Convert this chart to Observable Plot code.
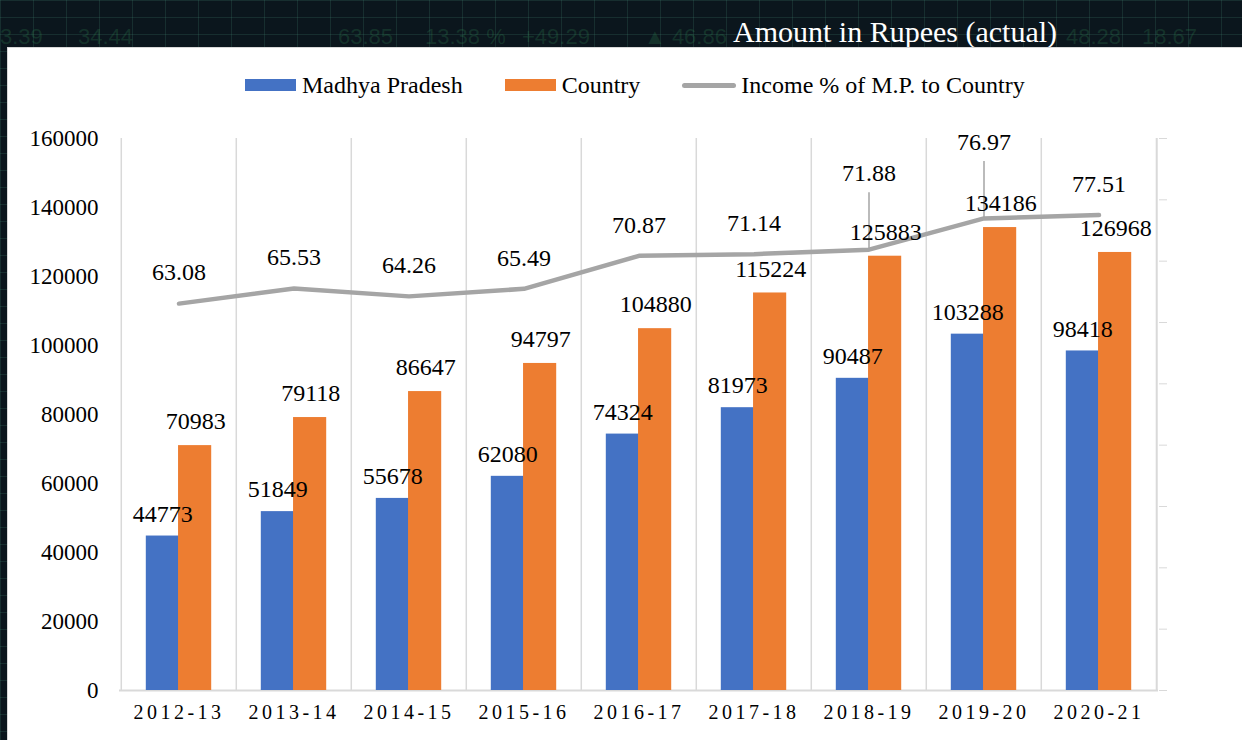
<!DOCTYPE html>
<html><head><meta charset="utf-8">
<script src="https://cdn.jsdelivr.net/npm/d3@7"></script>
<script src="https://cdn.jsdelivr.net/npm/@observablehq/plot@0.6"></script>
<style>
html,body{margin:0;padding:0;width:1242px;height:740px;overflow:hidden;}
body{position:relative;background-color:#0b161d;
 background-image:linear-gradient(rgba(70,140,120,.2) 1px,transparent 1px),linear-gradient(90deg,rgba(70,140,120,.2) 1px,transparent 1px);
 background-size:100% 17px,33px 100%;font-family:"Liberation Serif",serif;}
.bgt{position:absolute;top:24px;font-family:"Liberation Sans Narrow","Liberation Sans",sans-serif;font-size:22px;color:rgba(60,170,100,.2);white-space:nowrap;}
#title{position:absolute;left:733px;top:17px;line-height:30px;color:#fff;font-size:30px;white-space:nowrap;font-family:"Liberation Serif",serif;}
#panel{position:absolute;left:7px;top:47px;width:1250px;height:710px;background:#fff;border:1.5px solid #d8d8d8;}
#legend{position:absolute;top:73px;left:245px;display:flex;align-items:center;font-size:24px;line-height:24px;color:#000;font-family:"Liberation Serif",serif;}
#legend .item{display:flex;align-items:center;margin-right:42px;}
#legend .sw{width:51px;height:12px;margin-right:6px;}
#legend .ln{width:54px;height:5px;border-radius:3px;margin-right:5px;background:#A5A5A5;}
#chart{position:absolute;left:8px;top:100px;}
#chart svg, #chart svg text{font-family:"Liberation Serif",serif !important;}
#chart svg g[aria-label="x-axis tick label"] text{letter-spacing:3.5px;}
</style></head>
<body>
<div class="bgt" style="left:0px">3.39</div>
<div class="bgt" style="left:78px">34.44</div>
<div class="bgt" style="left:338px">63.85</div>
<div class="bgt" style="left:425px">13.38 %</div>
<div class="bgt" style="left:522px">+49.29</div>
<div class="bgt" style="left:644px">▲ 46.86</div>
<div class="bgt" style="left:1066px">48.28</div>
<div class="bgt" style="left:1142px">18.67</div>
<div id="title">Amount in Rupees (actual)</div>
<div id="panel"></div>
<div id="legend">
 <div class="item"><div class="sw" style="background:#4472C4"></div><span>Madhya Pradesh</span></div>
 <div class="item"><div class="sw" style="background:#ED7D31"></div><span>Country</span></div>
 <div class="item"><div class="ln"></div><span>Income % of M.P. to Country</span></div>
</div>
<div id="chart"></div>
<script>
const years = ["2012-13","2013-14","2014-15","2015-16","2016-17","2017-18","2018-19","2019-20","2020-21"];
const mpValues = [44773,51849,55678,62080,74324,81973,90487,103288,98418];
const countryValues = [70983,79118,86647,94797,104880,115224,125883,134186,126968];
const pctValues = [63.08,65.53,64.26,65.49,70.87,71.14,71.88,76.97,77.51];
const leftTicks = [0,20000,40000,60000,80000,100000,120000,140000,160000];
const rightTicks = [0,10,20,30,40,50,60,70,80,90];
const liftedYears = ["2018-19","2019-20"];

const leftMax = 160000, rightMax = 90;
const toLeft = v => v * leftMax / rightMax;

const W = 1234, H = 640, mT = 38, mB = 50, mL = 111, mR = 84;
const step = (W - mL - mR) / years.length;
const plotH = H - mT - mB;
const pxToData = px => px * leftMax / plotH;

const rows = years.map((y, i) => ({year: y, mp: mpValues[i], country: countryValues[i], pct: pctValues[i]}));
const normalPct = rows.filter(d => !liftedYears.includes(d.year));
const liftedPct = rows.filter(d => liftedYears.includes(d.year));

const barW = 33.6, outer = 24.8;
const grid = "#d9d9d9";
const serif = "Liberation Serif, serif";

const chart = Plot.plot({
  width: W, height: H, marginTop: mT, marginBottom: mB, marginLeft: mL, marginRight: mR,
  x: {domain: years, padding: 0, label: null},
  y: {domain: [0, leftMax], label: null},
  style: {fontFamily: serif, fontSize: "23px", color: "#000", background: "transparent", overflow: "visible"},
  marks: [
    Plot.ruleX(years, {x: d => d, dx: -step / 2, stroke: grid, strokeWidth: 1.5}),
    Plot.ruleX([years[years.length - 1]], {x: d => d, dx: step / 2, stroke: grid, strokeWidth: 2}),
    Plot.ruleY([0], {stroke: grid, strokeWidth: 2}),
    Plot.barY(rows, {x: "year", y: "mp", fill: "#4472C4", insetLeft: outer, insetRight: step - outer - barW}),
    Plot.barY(rows, {x: "year", y: "country", fill: "#ED7D31", insetLeft: step - outer - barW, insetRight: outer}),
    Plot.line(rows, {x: "year", y: d => toLeft(d.pct), stroke: "#A5A5A5", strokeWidth: 4.5}),
    Plot.ruleX(liftedPct, {x: "year", y1: d => toLeft(d.pct), y2: d => toLeft(d.pct) + pxToData(57), stroke: "#A5A5A5", strokeWidth: 1.5}),
    Plot.text(rows, {x: "year", y: "mp", text: d => String(d.mp), dx: -(barW / 2) + 0.5, dy: -22, fontSize: 24, fontFamily: serif, fill: "#000"}),
    Plot.text(rows, {x: "year", y: "country", text: d => String(d.country), dx: barW / 2, dy: -24, fontSize: 24, fontFamily: serif, fill: "#000"}),
    Plot.text(normalPct, {x: "year", y: d => toLeft(d.pct), text: d => d.pct.toFixed(2), dy: -31, fontSize: 24, fontFamily: serif, fill: "#000"}),
    Plot.text(liftedPct, {x: "year", y: d => toLeft(d.pct), text: d => d.pct.toFixed(2), dy: -76, fontSize: 24, fontFamily: serif, fill: "#000"}),
    Plot.axisY({ticks: leftTicks, tickFormat: d => String(d), tickSize: 0, tickPadding: 21, fontSize: 23, fontFamily: serif}),
    Plot.axisY({anchor: "right", ticks: rightTicks.map(toLeft), tickFormat: () => "", tickSize: 8, stroke: grid}),
    Plot.axisX({tickSize: 0, tickPadding: 14, fontSize: 20, fontFamily: serif})
  ]
});
document.getElementById("chart").appendChild(chart);
</script>
</body></html>
